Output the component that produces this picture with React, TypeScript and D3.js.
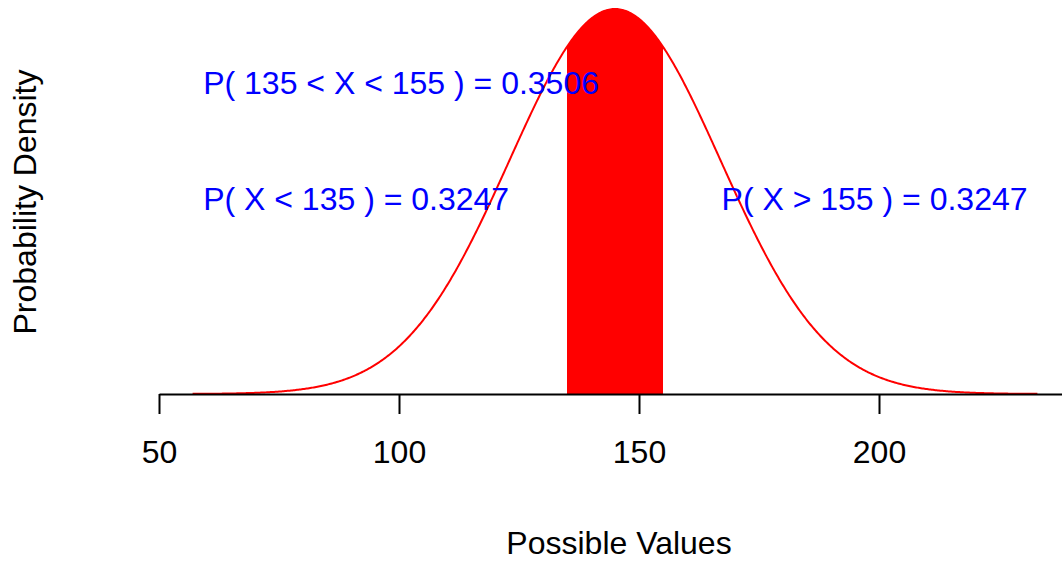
import { useEffect, useRef } from "react";
import * as d3 from "d3";

// distribution parameters and shaded interval
const mean = 145;
const sd = 22;
const lower = 135;
const upper = 155;

// axis ticks
const xTicks = [50, 100, 150, 200];

// annotation labels: text, anchor x (data units), y (density units)
const labelTexts = [
  "P( 135 < X < 155 ) = 0.3506",
  "P( X < 135 ) = 0.3247",
  "P( X > 155 ) = 0.3247",
];
const labelX = [59.2, 59.2, 167.2];
const labelY = [0.01413, 0.00867, 0.00867];

const W = 1062;
const H = 561;
const FONT = "'Liberation Sans', Arial, sans-serif";

const dnorm = (x: number) =>
  Math.exp(-0.5 * ((x - mean) / sd) ** 2) / (sd * Math.sqrt(2 * Math.PI));

export default function App() {
  const ref = useRef<SVGSVGElement>(null);

  useEffect(() => {
    const svg = d3.select(ref.current);
    svg.selectAll("*").remove();

    // plot region runs past the right edge, as in the reference
    const x = d3.scaleLinear().domain([50, 250]).range([159, 1119]);
    const peak = dnorm(mean);
    const y = d3.scaleLinear().domain([0, peak]).range([394, 9]);

    // curve from mean - 4sd to mean + 4sd
    const xs = d3.range(mean - 4 * sd, mean + 4 * sd + 0.001, 0.25);
    const curve = xs.map((v) => [v, dnorm(v)] as [number, number]);
    const band = d3
      .range(lower, upper + 0.001, 0.1)
      .map((v) => [v, dnorm(v)] as [number, number]);

    // shaded area
    svg
      .append("path")
      .datum(band)
      .attr(
        "d",
        d3
          .area<[number, number]>()
          .x((d) => x(d[0]))
          .y0(y(0))
          .y1((d) => y(d[1]))
      )
      .attr("fill", "#ff0000");

    // density line
    svg
      .append("path")
      .datum(curve)
      .attr(
        "d",
        d3
          .line<[number, number]>()
          .x((d) => x(d[0]))
          .y((d) => y(d[1]))
      )
      .attr("fill", "none")
      .attr("stroke", "#ff0000")
      .attr("stroke-width", 2);

    // x axis
    svg
      .append("g")
      .attr("transform", `translate(0,${y(0)})`)
      .call(d3.axisBottom(x).tickValues(xTicks).tickSize(20).tickSizeOuter(0).tickPadding(26))
      .call((g) => g.select(".domain").attr("stroke-width", 2))
      .call((g) => g.selectAll(".tick line").attr("stroke-width", 2))
      .selectAll("text")
      .attr("font-family", FONT)
      .attr("font-size", 32)
      .attr("fill", "#000");

    // annotations
    svg
      .selectAll(".lab")
      .data(labelTexts)
      .enter()
      .append("text")
      .attr("x", (_, i) => x(labelX[i]))
      .attr("y", (_, i) => y(labelY[i]))
      .attr("font-family", FONT)
      .attr("font-size", 32)
      .attr("fill", "#0000ff")
      .text((d) => d);

    // axis titles
    svg
      .append("text")
      .attr("x", 619)
      .attr("y", 554)
      .attr("text-anchor", "middle")
      .attr("font-family", FONT)
      .attr("font-size", 32)
      .text("Possible Values");

    svg
      .append("text")
      .attr("transform", "translate(36,202) rotate(-90)")
      .attr("text-anchor", "middle")
      .attr("font-family", FONT)
      .attr("font-size", 32)
      .text("Probability Density");
  }, []);

  return (
    <svg
      ref={ref}
      width={W}
      height={H}
      style={{ position: "fixed", top: 0, left: 0, background: "#fff" }}
    />
  );
}
